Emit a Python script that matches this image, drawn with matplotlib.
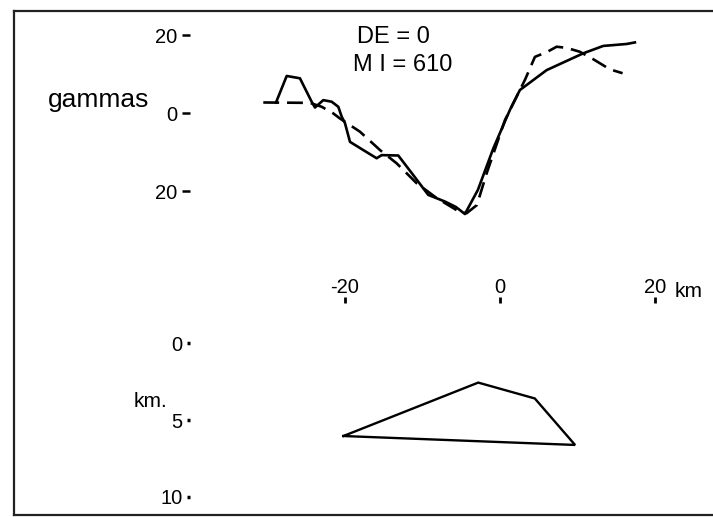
import matplotlib
matplotlib.use('Agg')
import matplotlib.pyplot as plt
from matplotlib.lines import Line2D

plt.rcParams['font.family'] = ['Liberation Sans', 'DejaVu Sans']

# observed anomaly (solid), km along profile / gammas
obs_km = [-28.90, -27.52, -25.81, -24.30, -23.87, -22.80, -21.72, -20.86, -20.43,
          -20.00, -19.35, -17.64, -15.91, -15.26, -13.12, -11.19, -9.25, -7.10,
          -5.68, -4.52, -2.84, -0.86, 1.29, 2.58, 6.03, 10.75, 13.33, 16.35, 17.42]
obs_gam = [2.7, 9.5, 8.9, 2.9, 1.4, 3.3, 2.9, 1.6, -0.9,
           -2.6, -7.4, -9.5, -11.6, -10.8, -10.9, -15.9, -21.0, -22.7,
           -24.1, -25.9, -19.7, -9.1, 0.8, 5.9, 11.0, 15.3, 17.2, 17.7, 18.1]

# computed anomaly (dashed)
calc_km = [-30.54, -24.52, -23.00, -21.51, -20.65, -18.06, -15.48, -13.33, -10.75,
           -8.17, -5.59, -4.30, -2.97, -1.72, 0.65, 3.23, 4.52, 6.03, 7.32, 8.61,
           10.32, 12.04, 14.19, 15.83]
calc_gam = [2.7, 2.6, 1.6, -0.1, -1.4, -4.8, -9.5, -12.9, -18.0,
            -21.8, -24.9, -25.7, -23.6, -15.5, -1.8, 8.5, 14.4, 15.6, 17.0, 16.7,
            15.7, 13.8, 11.2, 10.2]

# body cross-section, km / depth km
body_km = [-20.2, -2.8, 4.5, 9.7, -20.2]
body_depth = [6.04, 2.57, 3.6, 6.62, 6.04]

gam_ticks = [20, 0, -20]
gam_labels = ['20', '0', '20']
dist_ticks = [-20, 0, 20]
dist_labels = ['-20', '0', '20']
depth_ticks = [0, 5, 10]
depth_labels = ['0', '5', '10']

W, H = 713, 517
fig = plt.figure(figsize=(W / 100, H / 100), dpi=100)


def box(left, top, right, bottom):
    return [left / W, 1 - bottom / H, (right - left) / W, (bottom - top) / H]


def fx(px):
    return px / W


def fy(py):
    return 1 - py / H


# frame (right side is cut off in the scan)
for xs, ys in [([14, 14], [11, 515]), ([14, W], [11, 11]), ([14, W], [515, 515])]:
    fig.add_artist(Line2D([fx(v) for v in xs], [fy(v) for v in ys], color='#222222',
                          lw=1.6, transform=fig.transFigure))

ax1 = fig.add_axes(box(190, 20, 713, 230))
ax1.plot(obs_km, obs_gam, color='black', lw=1.9, solid_joinstyle='round')
ax1.plot(calc_km, calc_gam, color='black', lw=1.9, linestyle=(0, (6, 3)))
ax1.set_xlim(-40, 27.5)
ax1.set_ylim(-30, 23.85)
ax1.set_yticks(gam_ticks, labels=gam_labels)
ax1.set_xticks([])
ax1.tick_params(axis='y', direction='out', length=6, width=1.8, pad=3, labelsize=14.5)
for s in ax1.spines.values():
    s.set_visible(False)
ax1.patch.set_alpha(0)

ax2 = fig.add_axes(box(190, 303, 713, 515))
ax2.plot(body_km, body_depth, color='black', lw=1.7, solid_joinstyle='miter')
ax2.set_xlim(-40, 27.5)
ax2.set_ylim(11.17, -2.6)
ax2.xaxis.tick_top()
ax2.set_xticks(dist_ticks, labels=dist_labels)
ax2.set_yticks(depth_ticks, labels=depth_labels)
ax2.tick_params(axis='x', direction='out', length=4, width=2, pad=0, labelsize=14.5)
ax2.tick_params(axis='y', direction='out', length=2.5, width=2.5, pad=3, labelsize=14.5)
for s in ax2.spines.values():
    s.set_visible(False)
ax2.patch.set_alpha(0)

fig.text(fx(48), fy(107), 'gammas', fontsize=19, va='baseline', ha='left')
fig.text(fx(357), fy(43), 'DE = 0', fontsize=17, va='baseline', ha='left')
fig.text(fx(353), fy(71), 'M I = 610', fontsize=17, va='baseline', ha='left')
fig.text(fx(675), fy(297), 'km', fontsize=15, va='baseline', ha='left')
fig.text(fx(134), fy(407), 'km.', fontsize=15, va='baseline', ha='left')

fig.savefig('out.png', dpi=100)
